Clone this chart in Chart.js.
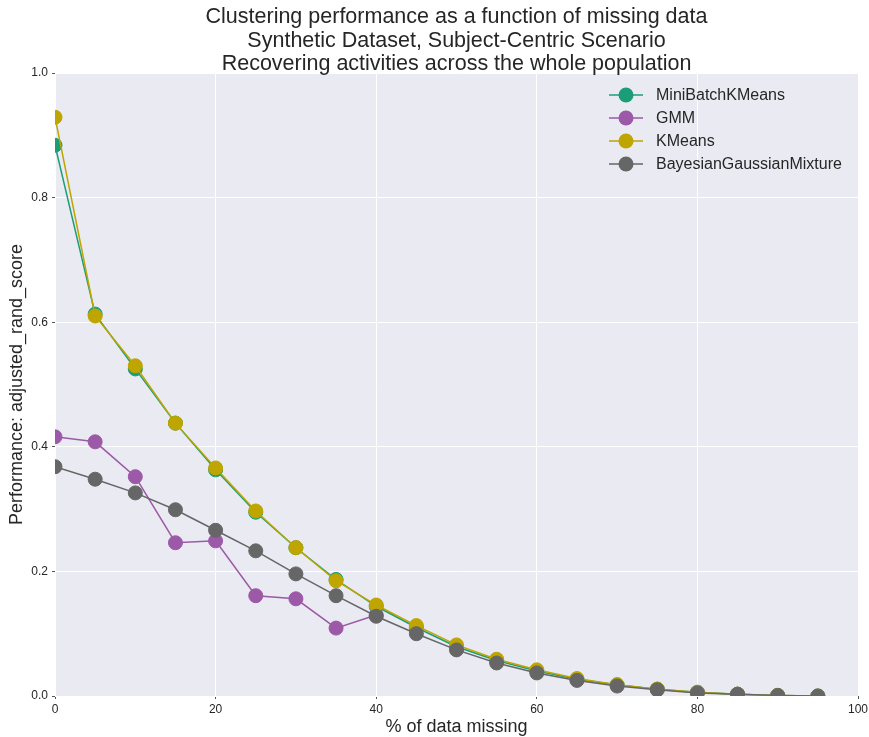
<!DOCTYPE html>
<html>
<head>
<meta charset="utf-8">
<script src="https://cdn.jsdelivr.net/npm/chart.js@4/dist/chart.umd.min.js"></script>
<style>
  html, body { margin: 0; padding: 0; background: #ffffff; }
  #wrap { width: 869px; height: 737px; position: relative; }
</style>
</head>
<body>
<div id="wrap"><canvas id="chart"></canvas></div>
<script>
// Percentage of data removed before clustering
const missingPct = [0, 5, 10, 15, 20, 25, 30, 35, 40, 45, 50, 55, 60, 65, 70, 75, 80, 85, 90, 95];

// adjusted_rand_score per algorithm
const miniBatchKMeans = [0.884, 0.613, 0.525, 0.438, 0.363, 0.295, 0.238, 0.187, 0.144, 0.110, 0.079, 0.057, 0.040, 0.027, 0.018, 0.011, 0.006, 0.003, 0.001, 0.000];
const gmm = [0.416, 0.408, 0.352, 0.246, 0.249, 0.161, 0.156, 0.109, 0.130, null, null, null, null, null, null, null, null, null, null, null];
const kMeans = [0.929, 0.610, 0.530, 0.438, 0.366, 0.297, 0.238, 0.185, 0.146, 0.113, 0.082, 0.059, 0.042, 0.028, 0.018, 0.011, 0.006, 0.003, 0.001, 0.000];
const bayesianGaussianMixture = [0.368, 0.348, 0.326, 0.299, 0.266, 0.233, 0.196, 0.161, 0.128, 0.100, 0.074, 0.053, 0.037, 0.025, 0.016, 0.010, 0.005, 0.003, 0.001, 0.000];

const seriesNames = ['MiniBatchKMeans', 'GMM', 'KMeans', 'BayesianGaussianMixture'];
const seriesValues = [miniBatchKMeans, gmm, kMeans, bayesianGaussianMixture];
const seriesColors = ['#1b9e77', '#9c59a7', '#bfa500', '#666666'];

const titleLines = [
  'Clustering performance as a function of missing data',
  'Synthetic Dataset, Subject-Centric Scenario',
  'Recovering activities across the whole population'
];

const textColor = '#262626';
const fontFamily = '"Liberation Sans", Arial, sans-serif';

const datasets = seriesNames.map((name, i) => ({
  label: name,
  data: missingPct.map((x, j) => ({ x: x, y: seriesValues[i][j] })),
  borderColor: seriesColors[i],
  backgroundColor: seriesColors[i],
  pointBackgroundColor: seriesColors[i],
  pointBorderColor: seriesColors[i],
  pointBorderWidth: 1,
  pointRadius: 7,
  pointHoverRadius: 7,
  borderWidth: 1.5,
  showLine: true,
  spanGaps: false,
  clip: 0,
  // later series are painted above earlier ones
  order: seriesNames.length - 1 - i
}));

// Shaded plotting area behind the grid
const plotBackground = {
  id: 'plotBackground',
  beforeDraw(chart) {
    const { ctx, chartArea: a } = chart;
    ctx.save();
    ctx.fillStyle = '#eaeaf2';
    ctx.fillRect(a.left, a.top, a.right - a.left, a.bottom - a.top);
    ctx.restore();
  }
};

// Three-line heading centred over the plotting area
const plotTitle = {
  id: 'plotTitle',
  afterDraw(chart) {
    const { ctx, chartArea: a } = chart;
    const cx = (a.left + a.right) / 2;
    ctx.save();
    ctx.font = '21.5px ' + fontFamily;
    ctx.fillStyle = textColor;
    ctx.textAlign = 'center';
    ctx.textBaseline = 'alphabetic';
    titleLines.forEach((line, i) => {
      ctx.fillText(line, cx, 23 + i * 23.5);
    });
    ctx.restore();
  }
};

// Legend drawn inside the upper right corner of the plot
const innerLegend = {
  id: 'innerLegend',
  afterDraw(chart) {
    const { ctx } = chart;
    ctx.save();
    ctx.font = '16px ' + fontFamily;
    ctx.textBaseline = 'middle';
    ctx.textAlign = 'left';
    chart.data.datasets.forEach((ds, i) => {
      const y = 95 + i * 23;
      ctx.strokeStyle = ds.borderColor;
      ctx.lineWidth = 1.5;
      ctx.beginPath();
      ctx.moveTo(609, y);
      ctx.lineTo(643, y);
      ctx.stroke();
      ctx.fillStyle = ds.borderColor;
      ctx.beginPath();
      ctx.arc(626, y, 7.5, 0, Math.PI * 2);
      ctx.fill();
      ctx.fillStyle = textColor;
      ctx.fillText(ds.label, 656, y + 1);
    });
    ctx.restore();
  }
};

new Chart(document.getElementById('chart'), {
  type: 'scatter',
  data: { datasets: datasets },
  plugins: [plotBackground, plotTitle, innerLegend],
  options: {
    responsive: true,
    maintainAspectRatio: false,
    animation: false,
    events: [],
    layout: { padding: { left: 0, right: 11, top: 73, bottom: 0 } },
    plugins: {
      legend: { display: false },
      tooltip: { enabled: false },
      title: { display: false }
    },
    scales: {
      x: {
        type: 'linear',
        min: 0,
        max: 100,
        border: { display: false },
        grid: { color: '#ffffff', lineWidth: 1, tickLength: 3, tickColor: '#555555', tickWidth: 1 },
        ticks: { stepSize: 20, color: textColor, padding: 3, font: { family: fontFamily, size: 12 }, maxRotation: 0 },
        title: {
          display: true,
          text: '% of data missing',
          color: textColor,
          font: { family: fontFamily, size: 18 },
          padding: { top: 0, bottom: -1 }
        },
        afterFit(scale) {
          scale.height = 41;
          // the outer tick labels may overhang; the layout padding already covers them
          scale.paddingLeft = 0;
          scale.paddingRight = 0;
        }
      },
      y: {
        type: 'linear',
        min: 0,
        max: 1,
        border: { display: false },
        grid: { color: '#ffffff', lineWidth: 1, tickLength: 3, tickColor: '#555555', tickWidth: 1 },
        ticks: {
          stepSize: 0.2,
          color: textColor,
          padding: 4,
          font: { family: fontFamily, size: 12 },
          callback: v => v.toFixed(1)
        },
        title: {
          display: true,
          text: 'Performance: adjusted_rand_score',
          color: textColor,
          font: { family: fontFamily, size: 18 },
          padding: { top: 6, bottom: 0 }
        },
        afterFit(scale) { scale.width = 55; }
      }
    }
  }
});
</script>
</body>
</html>
